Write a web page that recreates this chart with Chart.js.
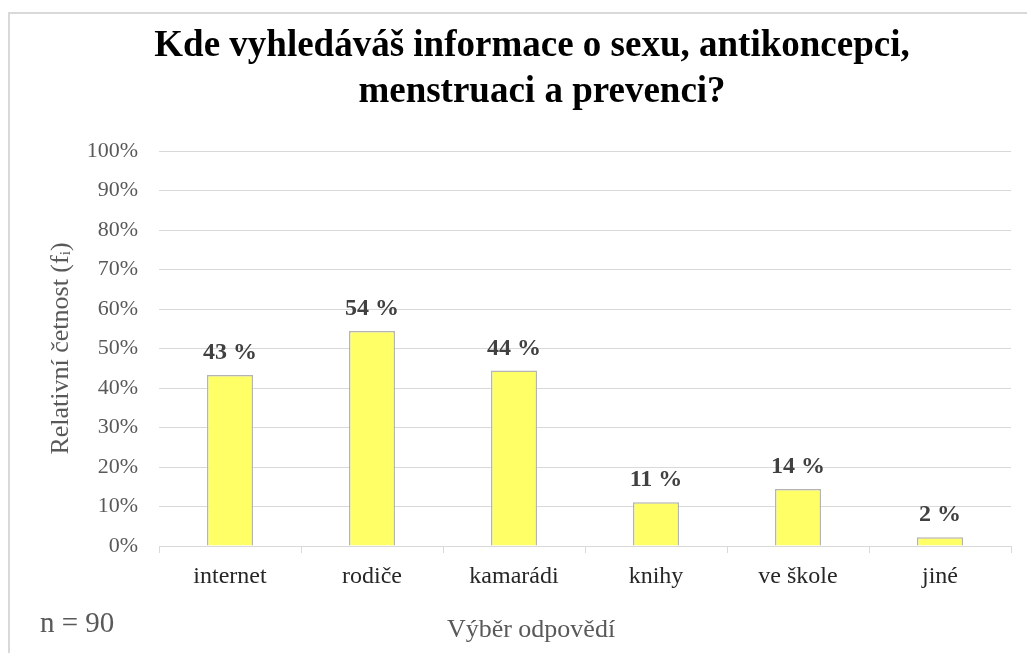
<!DOCTYPE html>
<html>
<head>
<meta charset="utf-8">
<script src="https://cdn.jsdelivr.net/npm/chart.js@4.4.1/dist/chart.umd.min.js"></script>
<style>
  html, body { margin: 0; padding: 0; background: #ffffff; }
  #wrap { width: 1027px; height: 653px; position: relative; }
</style>
</head>
<body>
<div id="wrap"><canvas id="c" width="1027" height="653"></canvas></div>
<script>
const categories = ["internet", "rodiče", "kamarádi", "knihy", "ve škole", "jiné"];
const values = [43.3, 54.4, 44.4, 11.1, 14.4, 2.2];
const valueLabels = ["43 %", "54 %", "44 %", "11 %", "14 %", "2 %"];
const titleLines = ["Kde vyhledáváš informace o sexu, antikoncepci,", "menstruaci a prevenci?"];
const yAxisTitle = "Relativní četnost (fᵢ)";
const xAxisTitle = "Výběr odpovědí";
const sampleNote = "n = 90";

const SERIF = "'Liberation Serif', 'Times New Roman', serif";

const decor = {
  id: 'decor',
  beforeDraw(chart) {
    const ctx = chart.ctx;
    ctx.save();
    ctx.fillStyle = '#ffffff';
    ctx.fillRect(0, 0, chart.width, chart.height);
    ctx.strokeStyle = '#d9d9d9';
    ctx.lineWidth = 2;
    ctx.beginPath();
    ctx.moveTo(9, 700);
    ctx.lineTo(9, 13);
    ctx.lineTo(1100, 13);
    ctx.stroke();
    ctx.restore();
  },
  afterDraw(chart) {
    const ctx = chart.ctx;
    const area = chart.chartArea;
    ctx.save();
    // title
    ctx.fillStyle = '#000000';
    ctx.font = "bold 37px " + SERIF;
    ctx.textAlign = 'center';
    ctx.textBaseline = 'alphabetic';
    ctx.fillText(titleLines[0], 532, 56);
    ctx.fillText(titleLines[1], 542, 102);
    // value labels
    const meta = chart.getDatasetMeta(0);
    ctx.font = "bold 24px " + SERIF;
    ctx.fillStyle = '#404040';
    meta.data.forEach((bar, i) => {
      ctx.fillText(valueLabels[i], bar.x, bar.y - 16);
    });
    // x axis title
    ctx.font = "26px " + SERIF;
    ctx.fillStyle = '#595959';
    ctx.fillText(xAxisTitle, 531, 637);
    // y axis title
    ctx.save();
    ctx.translate(68, (area.top + area.bottom) / 2);
    ctx.rotate(-Math.PI / 2);
    ctx.font = "26px " + SERIF;
    ctx.fillText(yAxisTitle, 0, 0);
    ctx.restore();
    // n note
    ctx.font = "29px " + SERIF;
    ctx.fillStyle = '#595959';
    ctx.textAlign = 'left';
    ctx.fillText(sampleNote, 40, 632);
    ctx.restore();
  }
};

new Chart(document.getElementById('c'), {
  type: 'bar',
  data: {
    labels: categories,
    datasets: [{
      data: values,
      backgroundColor: '#ffff66',
      borderColor: '#b4b4b4',
      borderWidth: 1.5,
      categoryPercentage: 1,
      barPercentage: 0.325
    }]
  },
  options: {
    responsive: false,
    animation: false,
    devicePixelRatio: 1,
    layout: { padding: { top: 151, left: 0, right: 16, bottom: 0 } },
    plugins: { legend: { display: false }, tooltip: { enabled: false }, title: { display: false } },
    scales: {
      x: {
        afterFit(s) { s.height = 107; },
        grid: { display: true, drawOnChartArea: false, drawTicks: true, tickLength: 7, color: '#d9d9d9', offset: true },
        border: { display: true, color: '#d9d9d9', width: 1 },
        ticks: { color: '#262626', font: { family: SERIF, size: 24 }, padding: 9 },
        title: { display: false }
      },
      y: {
        min: 0, max: 100,
        afterFit(s) { s.width = 159; },
        ticks: { stepSize: 10, callback: v => v + '%', color: '#595959', font: { family: SERIF, size: 22 }, padding: 21 },
        grid: { color: '#d9d9d9', lineWidth: 1, drawTicks: false },
        border: { display: false },
        title: { display: false }
      }
    }
  },
  plugins: [decor]
});
</script>
</body>
</html>
